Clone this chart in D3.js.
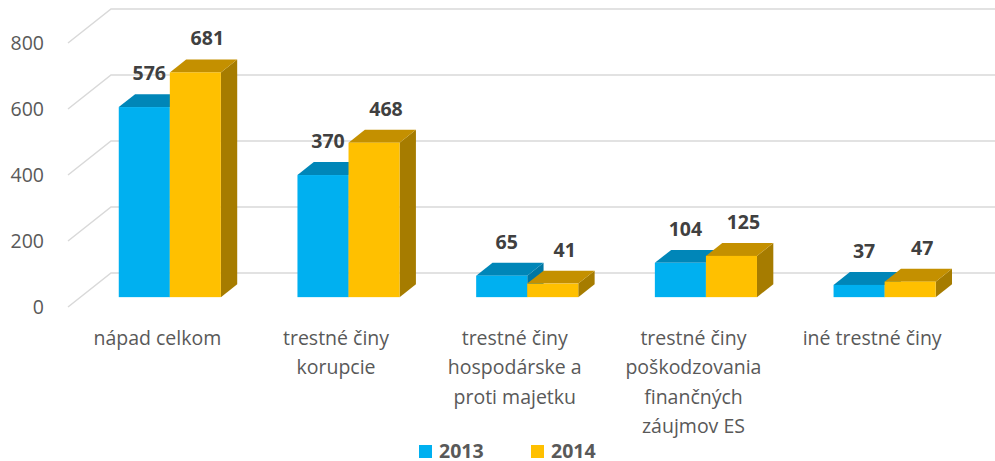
<!DOCTYPE html>
<html>
<head>
<meta charset="utf-8">
<script src="https://cdn.jsdelivr.net/npm/d3@7"></script>
<style>
  body { margin: 0; background: #fff; }
  text { font-family: "Open Sans", Lato, sans-serif; }
</style>
</head>
<body>
<script>
var width = 995, height = 461;

// data
var categories = ["nápad celkom", "trestné činy korupcie", "trestné činy hospodárske a proti majetku",
                  "trestné činy poškodzovania finančných záujmov ES", "iné trestné činy"];
var categoryLines = [["nápad celkom"], ["trestné činy", "korupcie"],
                     ["trestné činy", "hospodárske a", "proti majetku"],
                     ["trestné činy", "poškodzovania", "finančných", "záujmov ES"],
                     ["iné trestné činy"]];
var series = ["2013", "2014"];
var values2013 = [576, 370, 65, 104, 37];
var values2014 = [681, 468, 41, 125, 47];
var yTicks = [0, 200, 400, 600, 800];

var colors = {"2013": {front: "#00b0f0", top: "#0086b8", side: "#0077a3"},
              "2014": {front: "#ffc000", top: "#c49000", side: "#a67c00"}};

var floorY = 307;                 // y of value 0 at the front edge
var depth = {"x": 43, "y": -34};  // oblique depth of the whole plot box
var barDepth = [0.29, 0.67];      // bars sit in the middle of the box
var fontSize = 19.5;

var x = d3.scaleBand().domain(categories).range([68, 68 + 5 * 178.7]);
var xs = d3.scaleBand().domain(series).range([0, x.bandwidth()]).paddingOuter(0.75);
var y = d3.scaleLinear().domain([0, 800]).range([0, 264]);

function pt(px, v, d){
    return [px + d * depth.x, floorY + d * depth.y - y(v)];
}

var svg = d3.select("body").append("svg")
    .attr("width", width)
    .attr("height", height);

// gridlines: back wall + side wall diagonals
var grid = svg.append("g").attr("class", "grid")
    .attr("stroke", "#d9d9d9").attr("stroke-width", 1.5).attr("fill", "none");
yTicks.forEach(function(t){
    var a = pt(x.range()[0], t, 0), b = pt(x.range()[0], t, 1);
    grid.append("path")
        .attr("d", "M" + a[0] + "," + a[1] + "L" + b[0] + "," + b[1] + "H" + width);
});

// y axis labels
svg.append("g").selectAll("text")
    .data(yTicks)
    .enter().append("text")
    .attr("x", 44)
    .attr("y", function(d){ return pt(0, d, 0)[1]; })
    .attr("dy", "0.35em")
    .attr("text-anchor", "end")
    .attr("font-size", fontSize)
    .attr("fill", "#595959")
    .text(function(d){ return d; });

// bars
var bars = [];
categories.forEach(function(c, i){
    bars.push({cat: c, s: "2013", v: values2013[i]});
    bars.push({cat: c, s: "2014", v: values2014[i]});
});

function poly(p){ return "M" + p.map(function(q){ return q[0] + "," + q[1]; }).join("L") + "Z"; }

var barG = svg.append("g").selectAll("g")
    .data(bars)
    .enter().append("g");

barG.each(function(b){
    var g = d3.select(this);
    var x0 = x(b.cat) + xs(b.s), x1 = x0 + xs.bandwidth();
    var d0 = barDepth[0], d1 = barDepth[1];
    var col = colors[b.s];
    // right side
    g.append("path")
        .attr("d", poly([pt(x1, 0, d0), pt(x1, b.v, d0), pt(x1, b.v, d1), pt(x1, 0, d1)]))
        .attr("fill", col.side);
    // top
    g.append("path")
        .attr("d", poly([pt(x0, b.v, d0), pt(x1, b.v, d0), pt(x1, b.v, d1), pt(x0, b.v, d1)]))
        .attr("fill", col.top);
    // front
    var f0 = pt(x0, b.v, d0), f1 = pt(x1, 0, d0);
    g.append("rect")
        .attr("x", f0[0]).attr("y", f0[1])
        .attr("width", f1[0] - f0[0]).attr("height", f1[1] - f0[1])
        .attr("fill", col.front);
});

// value labels
var labelShift = {"2013": 5, "2014": 12};
svg.append("g").selectAll("text")
    .data(bars)
    .enter().append("text")
    .attr("x", function(b){ return pt(x(b.cat) + xs(b.s) + xs.bandwidth() / 2, b.v, barDepth[0])[0] + labelShift[b.s]; })
    .attr("y", function(b){ return pt(0, b.v, barDepth[1])[1] - 21; })
    .attr("dy", "0.35em")
    .attr("text-anchor", "middle")
    .attr("font-size", fontSize)
    .attr("font-weight", "bold")
    .attr("fill", "#404040")
    .text(function(b){ return b.v; });

// category labels
var catG = svg.append("g").selectAll("text")
    .data(categories)
    .enter().append("text")
    .attr("text-anchor", "middle")
    .attr("font-size", fontSize)
    .attr("fill", "#595959")
    .attr("transform", function(c){ return "translate(" + (x(c) + x.bandwidth() / 2) + ",345)"; });

catG.selectAll("tspan")
    .data(function(c, i){ return categoryLines[i]; })
    .enter().append("tspan")
    .attr("x", 0)
    .attr("y", function(d, j){ return j * 29.3; })
    .text(function(d){ return d; });

// legend
var legend = svg.append("g").selectAll("g")
    .data(series)
    .enter().append("g")
    .attr("transform", function(d, i){ return "translate(" + (419 + i * 112) + ",445)"; });
legend.append("rect")
    .attr("width", 13).attr("height", 13)
    .attr("fill", function(d){ return colors[d].front; });
legend.append("text")
    .attr("x", 20).attr("y", 13)
    .attr("font-size", fontSize)
    .attr("font-weight", "bold")
    .attr("fill", "#595959")
    .text(function(d){ return d; });
</script>
</body>
</html>
